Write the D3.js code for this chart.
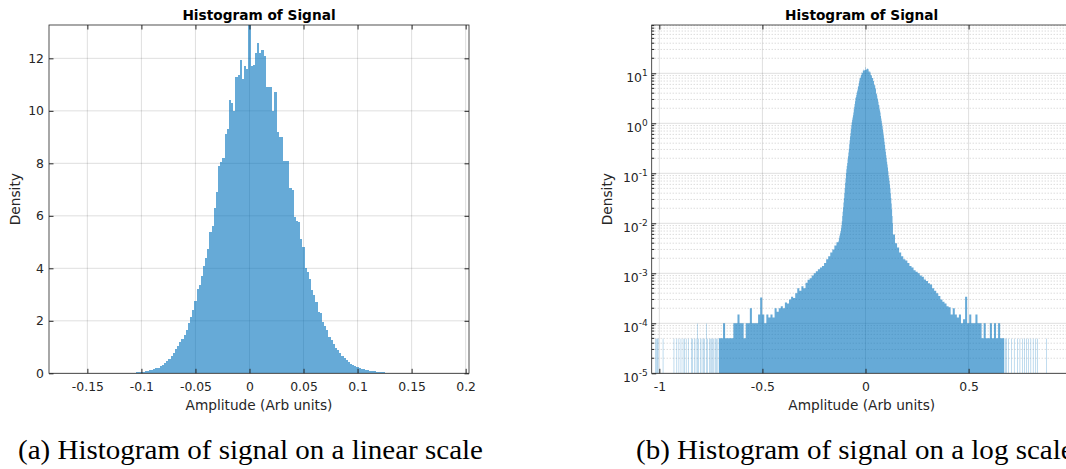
<!DOCTYPE html>
<html>
<head>
<meta charset="utf-8">
<title>Histogram of Signal</title>
<style>
  body { margin: 0; background: #fff; }
  svg text { font-family: "DejaVu Sans", sans-serif; fill: #262626; }
</style>
</head>
<body>
<script src="https://d3js.org/d3.v7.min.js"></script>
<script>
// ---- data (pdf values) ----
// fine histogram: 0.002 wide bins, first centre at -0.130
const binWidth = 0.002;
const firstCentre = -0.130;
const linDensity = [
  0.0045, 0.005, 0.0055, 0.006, 0.0065, 0.007, 0.008, 0.009, 0.011, 0.014,
  0.017, 0.021, 0.026, 0.032, 0.04, 0.05, 0.065, 0.08, 0.1, 0.12,
  0.14, 0.16, 0.19, 0.22, 0.26, 0.31, 0.38, 0.46, 0.55, 0.65,
  0.78, 0.92, 1.05, 1.18, 1.3, 1.45, 1.65, 1.9, 2.15, 2.42,
  2.75, 3.2, 3.35, 3.7, 4.1, 4.4, 4.75, 5.4, 5.6, 6.3,
  6.9, 7.9, 8.05, 8.2, 9.1, 9.3, 10.4, 10.3, 10.0, 11.3,
  11.35, 11.95, 11.2, 11.7, 11.6, 13.27, 11.7, 11.75, 12.2, 12.6,
  12.2, 12.3, 12.1, 10.9, 10.9, 10.9, 10.0, 10.7, 9.2, 9.0,
  9.0, 8.1, 8.1, 8.1, 7.05, 7.0, 5.97, 5.8, 5.75, 5.1,
  4.8, 4.0, 3.85, 3.6, 3.17, 3.0, 2.7, 2.35, 2.3, 1.95,
  1.8, 1.65, 1.4, 1.25, 1.12, 0.98, 0.88, 0.76, 0.66, 0.58,
  0.5, 0.43, 0.37, 0.31, 0.27, 0.23, 0.2, 0.17, 0.15, 0.13,
  0.11, 0.09, 0.08, 0.07, 0.06, 0.05, 0.04, 0.032, 0.025, 0.019,
  0.014, 0.01
];

// tails seen on the log plot, summarised in 0.01 wide bins
const midStep = 0.01;
const midLeftFirst = -0.706;
const midLeft = [
  5e-5, 5e-5, 1e-4, 5e-5, 5e-5, 5e-5, 5e-5, 1e-4, 1e-4, 1.5e-4,
  1e-4, 1e-4, 5e-5, 1e-4, 1e-4, 2e-4, 1e-4, 1e-4, 1e-4, 1.5e-4,
  3.3e-4, 1.5e-4, 1e-4, 1.5e-4, 1.3e-4, 1.5e-4, 1.3e-4, 2e-4, 1.7e-4, 2e-4,
  2.2e-4, 2e-4, 2.6e-4, 2.5e-4, 3e-4, 3.4e-4, 3.2e-4, 4e-4, 5e-4, 4.5e-4,
  5.5e-4, 5e-4, 6.5e-4, 7.4e-4, 8e-4, 9e-4, 1e-3, 1.1e-3, 1.2e-3, 1.3e-3,
  1.4e-3, 1.6e-3, 1.9e-3, 2.2e-3, 2.6e-3, 3.0e-3, 3.6e-3, 4.2e-3
];
const midRightFirst = 0.138;
const midRight = [
  6e-3, 4e-3, 3.3e-3, 2.6e-3, 2.2e-3, 1.9e-3, 1.8e-3, 1.6e-3, 1.4e-3, 1.3e-3,
  1.15e-3, 1.07e-3, 1e-3, 9e-4, 8.5e-4, 7.5e-4, 7e-4, 6.3e-4, 6e-4, 5e-4,
  4.5e-4, 4e-4, 3.5e-4, 3e-4, 2.7e-4, 2.5e-4, 2.2e-4, 2.1e-4, 1.5e-4, 2e-4,
  1.5e-4, 1.3e-4, 1.5e-4, 1e-4, 1.2e-4, 3.4e-4, 1e-4, 1.5e-4, 1e-4, 1e-4,
  1.5e-4, 1e-4, 1e-4, 5e-5, 1e-4, 5e-5, 5e-5, 1e-4, 5e-5, 1e-4,
  5e-5, 1e-4, 5e-5, 5e-5
];

// isolated far-tail bins (sample counts in a 0.002 bin)
const singleCount = 4.94e-5;
const tailX = [
  -1.018, -1.014, -1.010, -1.006, -0.982, -0.929, -0.915, -0.905, -0.895, -0.885,
  -0.878, -0.870, -0.860, -0.845, -0.838, -0.830, -0.822, -0.816, -0.810, -0.800,
  -0.793, -0.787, -0.780, -0.772, -0.765, -0.758, -0.750, -0.745, -0.740, -0.735,
  -0.728, -0.722, -0.716,
  0.678, 0.684, 0.692, 0.708, 0.721, 0.736, 0.749, 0.760, 0.770, 0.781,
  0.789, 0.802, 0.813, 0.826, 0.834, 0.878
];
const tailCount = [
  1, 1, 1, 1, 1, 1, 1, 1, 1, 1,
  1, 1, 1, 1, 1, 1, 1, 2, 1, 1,
  1, 1, 1, 2, 1, 1, 1, 1, 1, 1,
  1, 1, 1,
  1, 1, 1, 1, 1, 1, 1, 1, 1, 1,
  1, 1, 1, 1, 1, 1
];

const linXTicks = [-0.15, -0.1, -0.05, 0, 0.05, 0.1, 0.15, 0.2];
const linYTicks = [0, 2, 4, 6, 8, 10, 12];
const logXTicks = [-1, -0.5, 0, 0.5];
const logYTicks = [1e-5, 1e-4, 1e-3, 1e-2, 1e-1, 1e0, 1e1];

const titleText = "Histogram of Signal";
const xLabelText = "Amplitude (Arb units)";
const yLabelText = "Density";
const captionA = "(a) Histogram of signal on a linear scale";
const captionB = "(b) Histogram of signal on a log scale";

// ---- setup ----
const svg = d3.select("body").append("svg")
  .attr("width", 1066)
  .attr("height", 469);

const barColor = "#0072bd";
const axisColor = "#262626";
const tickLen = 4.5;

const linX = d3.scaleLinear().domain([-0.1855, 0.2031]).range([49, 469]);
const linY = d3.scaleLinear().domain([0, 13.27]).range([373.3, 25]);
const logX = d3.scaleLinear().domain([-1.037, 1.0]).range([651.7, 1071.7]);
const logY = d3.scaleLog().domain([1e-5, 92.5]).range([373.3, 25]);

const linBins = linDensity.map((d, i) => {
  const c = firstCentre + i * binWidth;
  return {x0: c - binWidth / 2, x1: c + binWidth / 2, d: d};
});
const midLeftBins = midLeft.map((d, i) => {
  const c = midLeftFirst + i * midStep;
  return {x0: c - midStep / 2, x1: c + midStep / 2, d: d};
});
const midRightBins = midRight.map((d, i) => {
  const c = midRightFirst + i * midStep;
  return {x0: c - midStep / 2, x1: c + midStep / 2, d: d};
});
const tailBins = tailX.map((c, i) => ({x0: c - binWidth / 2, x1: c + binWidth / 2, d: tailCount[i] * singleCount}));

function clip(id, x, y) {
  svg.append("clipPath").attr("id", id).append("rect")
    .attr("x", x.range()[0]).attr("y", y.range()[1])
    .attr("width", x.range()[1] - x.range()[0])
    .attr("height", y.range()[0] - y.range()[1]);
}
clip("clipLin", linX, linY);
clip("clipLog", logX, logY);

function grid(g, x, y, xt, yt) {
  const [x0, x1] = x.range(), [y0, y1] = y.range();
  g.selectAll(".gx").data(xt).join("line")
    .attr("x1", d => x(d)).attr("x2", d => x(d))
    .attr("y1", y0).attr("y2", y1)
    .attr("stroke", axisColor).attr("stroke-opacity", 0.15);
  g.selectAll(".gy").data(yt).join("line")
    .attr("x1", x0).attr("x2", x1)
    .attr("y1", d => y(d)).attr("y2", d => y(d))
    .attr("stroke", axisColor).attr("stroke-opacity", 0.15);
}

function frame(g, x, y, xt, yt, yFmt, yPad) {
  const [x0, x1] = x.range(), [y0, y1] = y.range();
  const bottom = g.append("g").attr("transform", `translate(0,${y0})`)
    .call(d3.axisBottom(x).tickValues(xt).tickSizeInner(-tickLen).tickSizeOuter(0)
      .tickPadding(9).tickFormat(d => String(d)));
  const top = g.append("g").attr("transform", `translate(0,${y1})`)
    .call(d3.axisTop(x).tickValues(xt).tickSizeInner(-tickLen).tickSizeOuter(0).tickFormat(""));
  const left = g.append("g").attr("transform", `translate(${x0},0)`)
    .call(d3.axisLeft(y).tickValues(yt).tickSizeInner(-tickLen).tickSizeOuter(0)
      .tickPadding(yPad).tickFormat(yFmt));
  const right = g.append("g").attr("transform", `translate(${x1},0)`)
    .call(d3.axisRight(y).tickValues(yt).tickSizeInner(-tickLen).tickSizeOuter(0).tickFormat(""));
  [bottom, top, left, right].forEach(a => {
    a.select(".domain").remove();
    a.selectAll("line").attr("stroke", axisColor);
    a.selectAll("text").style("font-size", "12.4px").attr("fill", axisColor);
  });
  g.append("rect").attr("x", x0).attr("y", y1)
    .attr("width", x1 - x0).attr("height", y0 - y1)
    .attr("fill", "none").attr("stroke", axisColor).attr("stroke-width", 0.8);
  return left;
}

function labels(g, x, y, ylx) {
  const [x0, x1] = x.range(), [y0, y1] = y.range();
  const cx = (x0 + x1) / 2, cy = (y0 + y1) / 2;
  g.append("text").attr("x", cx).attr("y", 20).attr("text-anchor", "middle")
    .style("font-size", "13.7px").style("font-weight", "bold").style("fill", "#000")
    .text(titleText);
  g.append("text").attr("x", cx).attr("y", 409.5).attr("text-anchor", "middle")
    .style("font-size", "13.7px").text(xLabelText);
  g.append("text").attr("transform", `translate(${ylx},${cy}) rotate(-90)`)
    .attr("text-anchor", "middle").style("font-size", "13.7px").text(yLabelText);
}

// ---- (a) linear ----
const gA = svg.append("g");
grid(gA, linX, linY, linXTicks, linYTicks);
gA.append("g").attr("clip-path", "url(#clipLin)")
  .selectAll("rect").data(linBins).join("rect")
  .attr("x", b => linX(b.x0))
  .attr("width", b => linX(b.x1) - linX(b.x0))
  .attr("y", b => linY(b.d))
  .attr("height", b => linY(0) - linY(b.d))
  .attr("fill", barColor).attr("fill-opacity", 0.6)
  .attr("shape-rendering", "crispEdges");
frame(gA, linX, linY, linXTicks, linYTicks, d => String(d), 5);
labels(gA, linX, linY, 20);

// ---- (b) log ----
const gB = svg.append("g");
const minorY = [];
for (let k = -5; k <= 1; k++) {
  for (let m = 2; m <= 9; m++) {
    const v = m * Math.pow(10, k);
    if (v < logY.domain()[1]) minorY.push(v);
  }
}
gB.selectAll(".minor").data(minorY).join("line")
  .attr("x1", logX.range()[0]).attr("x2", logX.range()[1])
  .attr("y1", d => logY(d)).attr("y2", d => logY(d))
  .attr("stroke", "#1a1a1a").attr("stroke-opacity", 0.22)
  .attr("stroke-dasharray", "1,2");
grid(gB, logX, logY, logXTicks, logYTicks);

const denseBins = midLeftBins.concat(linBins, midRightBins);
const stepPts = [];
denseBins.forEach(b => { stepPts.push([b.x0, b.d]); stepPts.push([b.x1, b.d]); });
const bodyArea = d3.area()
  .x(p => logX(p[0]))
  .y0(logY(1e-5))
  .y1(p => logY(p[1]));
const plotB = gB.append("g").attr("clip-path", "url(#clipLog)");
plotB.append("path").datum(stepPts).attr("d", bodyArea)
  .attr("fill", barColor).attr("fill-opacity", 0.6);
plotB.selectAll("rect").data(tailBins).join("rect")
  .attr("x", b => logX(b.x0))
  .attr("width", b => logX(b.x1) - logX(b.x0))
  .attr("y", b => logY(b.d))
  .attr("height", b => logY(1e-5) - logY(b.d))
  .attr("fill", barColor).attr("fill-opacity", 0.6);

const leftB = frame(gB, logX, logY, logXTicks, logYTicks, () => "", 4);
// minor ticks on the log axis
[[logX.range()[0], 1], [logX.range()[1], -1]].forEach(([xe, dir]) => {
  gB.selectAll(null).data(minorY).join("line")
    .attr("x1", xe).attr("x2", xe + dir * 2.5)
    .attr("y1", d => logY(d)).attr("y2", d => logY(d))
    .attr("stroke", axisColor);
});
// 10^k labels
leftB.selectAll(".tick text").each(function(d) {
  const t = d3.select(this).attr("dy", null).text("");
  t.append("tspan").attr("dy", "8.4").text("10");
  t.append("tspan").attr("dy", "-6.7").style("font-size", "9px")
    .text(String(Math.round(Math.log10(d))));
});
labels(gB, logX, logY, 612);

// ---- captions ----
const capA = svg.append("text").attr("x", 18).attr("y", 459)
  .style("font-family", "'Liberation Serif', serif").style("font-size", "27px")
  .style("fill", "#000").text(captionA);
const capB = svg.append("text").attr("x", 636).attr("y", 459)
  .style("font-family", "'Liberation Serif', serif").style("font-size", "27px")
  .style("fill", "#000").text(captionB);
const stretch = 465 / capA.node().getComputedTextLength();
capA.attr("textLength", 465).attr("lengthAdjust", "spacingAndGlyphs");
capB.attr("textLength", capB.node().getComputedTextLength() * stretch)
  .attr("lengthAdjust", "spacingAndGlyphs");
</script>
</body>
</html>
